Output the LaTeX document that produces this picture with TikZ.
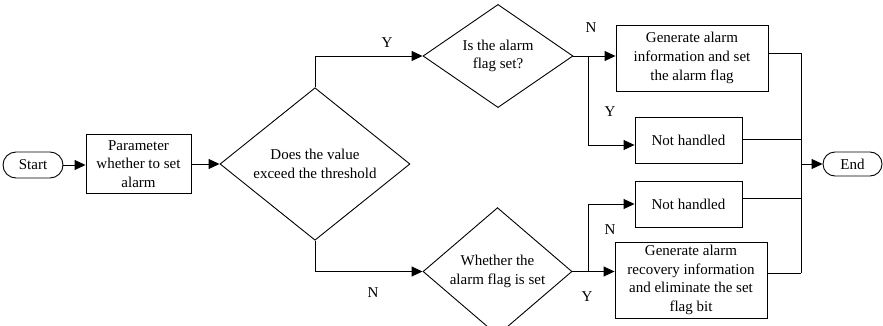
\documentclass[tikz,border=0pt]{standalone}
\usepackage{fontspec}
\setmainfont{Liberation Serif}
\usetikzlibrary{shapes.geometric,shapes.misc,arrows.meta}
\begin{document}
\begin{tikzpicture}[x=1pt,y=-1pt,
  every node/.style={font=\fontsize{15}{18.7}\selectfont, inner sep=0pt, align=center},
  box/.style={draw, rectangle, line width=0.9pt},
  dia/.style={draw, diamond, line width=0.9pt},
  pill/.style={draw, rounded rectangle, line width=0.9pt},
  conn/.style={line width=0.9pt},
  arr/.style={conn, -{Triangle[length=11pt,width=10pt]}},
  lab/.style={font=\fontsize{15}{18}\selectfont}
]
\useasboundingbox (0,0) rectangle (883,326);

\node[pill, minimum width=60pt, minimum height=26pt] (start) at (33,165) {Start};
\node[box, minimum width=105pt, minimum height=59pt] (param) at (138.5,164) {Parameter\\whether to set\\alarm};
\node[dia, minimum width=190pt, minimum height=102pt] (d1) at (315,164) {Does the value\\exceed the threshold};
\node[dia, minimum width=150pt, minimum height=102pt] (d2) at (498,56) {Is the alarm\\flag set?};
\node[dia, minimum width=149pt, minimum height=103pt] (d3) at (497.5,271.5) {Whether the\\alarm flag is set};
\node[box, minimum width=152pt, minimum height=66pt] (g1) at (692,58) {Generate alarm\\information and set\\the alarm flag};
\node[box, minimum width=107pt, minimum height=46pt] (n1) at (688.5,140) {Not handled};
\node[box, minimum width=107pt, minimum height=46pt] (n2) at (688.5,204) {Not handled};
\node[box, minimum width=152pt, minimum height=76pt] (g2) at (691,280) {Generate alarm\\recovery information\\and eliminate the set\\flag bit};
\node[pill, minimum width=59pt, minimum height=24pt] (end) at (852.5,164) {End};

\coordinate (b1) at (588,57);
\coordinate (b2) at (588,272);
\coordinate (ct) at (801,53);
\coordinate (cb) at (801,273);

\draw[arr] (start.east) -- (start.east -| param.west);
\draw[arr] (param.east) -- (d1.west);
\draw[arr] (d1.north) |- (d2.west);
\draw[arr] (d1.south) |- (d3.west);
\draw[arr] (d2.east) -- (d2.east -| g1.west);
\draw[arr] (b1) |- ([yshift=-5pt]n1.west);
\draw[arr] (d3.east) -- (d3.east -| g2.west);
\draw[arr] (b2) |- (n2.west);

\draw[conn] ([yshift=5pt]g1.east) -| (cb);
\draw[conn] ([yshift=1pt]n1.east) -| (cb);
\draw[conn] ([yshift=6pt]n2.east) -| (cb);
\draw[conn] ([yshift=7pt]g2.east) -| (cb);
\draw[arr] (ct |- end.west) -- (end.west);

\node[lab] (ly1) at (387,43) {Y};
\node[lab] (ln1) at (591,28) {N};
\node[lab] (ly2) at (610,112) {Y};
\node[lab] (ln2) at (373,293) {N};
\node[lab] (ln3) at (610,230) {N};
\node[lab] (ly3) at (587,297) {Y};
\end{tikzpicture}
\end{document}
